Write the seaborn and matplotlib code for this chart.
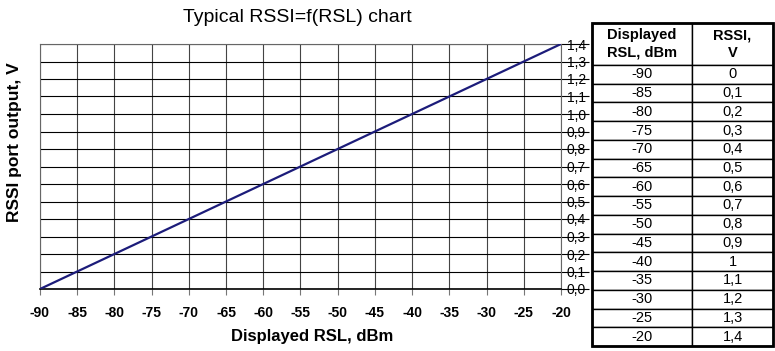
import matplotlib
matplotlib.use("Agg")
import matplotlib.pyplot as plt
import seaborn as sns
import pandas as pd
from matplotlib.patches import Rectangle

# ---- data ----
rsl_dbm = [-90, -85, -80, -75, -70, -65, -60, -55, -50, -45, -40, -35, -30, -25, -20]
rssi_v = [0.0, 0.1, 0.2, 0.3, 0.4, 0.5, 0.6, 0.7, 0.8, 0.9, 1.0, 1.1, 1.2, 1.3, 1.4]
rssi_table_text = ["0", "0,1", "0,2", "0,3", "0,4", "0,5", "0,6", "0,7", "0,8", "0,9",
                   "1", "1,1", "1,2", "1,3", "1,4"]
x_ticks = [-90, -85, -80, -75, -70, -65, -60, -55, -50, -45, -40, -35, -30, -25, -20]
y_ticks = [0.0, 0.1, 0.2, 0.3, 0.4, 0.5, 0.6, 0.7, 0.8, 0.9, 1.0, 1.1, 1.2, 1.3, 1.4]
y_tick_labels = ["0,0", "0,1", "0,2", "0,3", "0,4", "0,5", "0,6", "0,7", "0,8", "0,9",
                 "1,0", "1,1", "1,2", "1,3", "1,4"]
title = "Typical RSSI=f(RSL) chart"
x_label = "Displayed RSL, dBm"
y_label = "RSSI port output, V"
table_header = ["Displayed\nRSL, dBm", "RSSI,\nV"]

sns.set_theme(style="white")
plt.rcParams["font.family"] = ["Liberation Sans", "DejaVu Sans"]
plt.rcParams["text.color"] = "black"
plt.rcParams["xtick.color"] = "black"
plt.rcParams["ytick.color"] = "black"

df = pd.DataFrame({"rsl": rsl_dbm, "rssi": rssi_v})

fig = plt.figure(figsize=(7.75, 3.51), dpi=100)
fig.patch.set_facecolor("white")

ax = fig.add_axes([40 / 775, 1 - 289 / 351, (561 - 40) / 775, (289 - 44) / 351])
sns.lineplot(data=df, x="rsl", y="rssi", ax=ax, color="#1c1c7a", linewidth=1.6, zorder=5)

ax.set_xlim(-90, -20)
ax.set_ylim(0, 1.4)
ax.set_xticks(x_ticks)
ax.set_xticklabels([str(v) for v in x_ticks], fontsize=10, fontweight="bold")
ax.set_yticks(y_ticks)
ax.set_yticklabels(y_tick_labels, fontsize=10)

# grid
for xv in x_ticks:
    ax.axvline(xv, color="#444444", lw=0.8, zorder=1)
for yv in y_ticks:
    ax.axhline(yv, color="black", lw=0.8, zorder=1)

for side in ["left", "top", "right"]:
    ax.spines[side].set_color("#666666")
    ax.spines[side].set_linewidth(0.8)
ax.spines["bottom"].set_color("black")
ax.spines["bottom"].set_linewidth(1.2)

ax.yaxis.tick_right()
ax.tick_params(axis="y", which="both", right=True, left=False, length=20, width=0.8,
               color="black", pad=-16, direction="out", labelcolor="black")
ax.tick_params(axis="x", which="both", bottom=True, length=4, width=0.8,
               color="#777777", pad=8, labelcolor="black")
ax.set_xlabel("")
ax.set_ylabel("")

fig.text(297 / 775, 1 - 18 / 351, title, ha="center", va="center", fontsize=14,
         color="black")
fig.text(312 / 775, 1 - 337 / 351, x_label, ha="center", va="center",
         fontsize=12, fontweight="bold", color="black")
fig.text(15 / 775, 1 - 142 / 351, y_label, ha="center", va="center",
         fontsize=12.5, fontweight="bold", rotation=90, color="black")

# ---- table ----
tax = fig.add_axes([592 / 775, 1 - 346 / 351, (773 - 592) / 775, (346 - 23) / 351])
tax.set_axis_off()
cell_text = [[str(r), t] for r, t in zip(rsl_dbm, rssi_table_text)]
tbl = tax.table(cellText=cell_text, colLabels=table_header, cellLoc="center",
                bbox=[0, 0, 1, 1], colWidths=[(692 - 592) / 181, (773 - 692) / 181])
tbl.auto_set_font_size(False)
header_h = 0.13
row_h = (1 - header_h) / len(rsl_dbm)
for (r, c), cell in tbl.get_celld().items():
    cell.set_linewidth(1.0)
    cell.set_edgecolor("black")
    txt = cell.get_text()
    txt.set_color("black")
    if r == 0:
        cell.set_height(header_h)
        txt.set_fontweight("bold")
        txt.set_fontsize(10.5)
        txt.set_linespacing(1.35)
    else:
        cell.set_height(row_h)
        txt.set_fontsize(10.5)
tax.add_patch(Rectangle((0, 0), 1, 1, transform=tax.transAxes, fill=False,
                        lw=2.0, edgecolor="black", clip_on=False, zorder=10))

fig.savefig("out.png", dpi=100, facecolor="white")
